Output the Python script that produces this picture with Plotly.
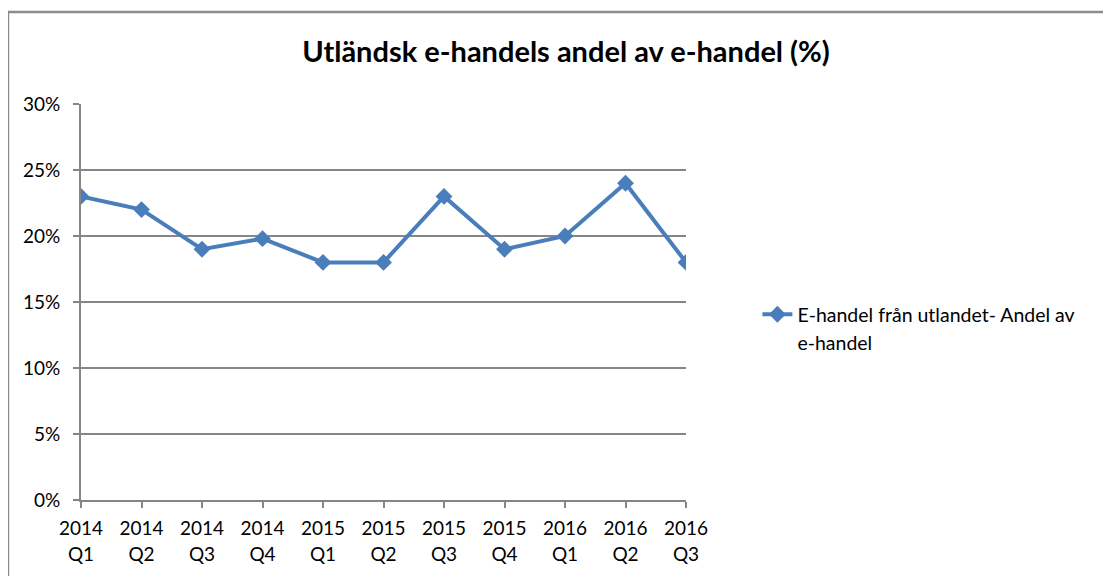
import plotly.graph_objects as go

categories = ["2014 Q1", "2014 Q2", "2014 Q3", "2014 Q4", "2015 Q1", "2015 Q2",
              "2015 Q3", "2015 Q4", "2016 Q1", "2016 Q2", "2016 Q3"]
values = [0.23, 0.22, 0.19, 0.198, 0.18, 0.18, 0.23, 0.19, 0.20, 0.24, 0.18]
series_name = "E-handel från utlandet- Andel av<br>e-handel"
y_ticks = [0, 0.05, 0.10, 0.15, 0.20, 0.25, 0.30]
y_tick_labels = ["0%", "5%", "10%", "15%", "20%", "25%", "30%"]
title_text = "Utländsk e-handels andel av e-handel (%)"

FONT = "Lato"
GRID = "#868686"
BLUE = "#4a7ebb"

# the page adds an 8px body margin, so compensate
OFF = 8
L, T, PW, PH = 81 - OFF, 104 - OFF, 605, 396

x_idx = list(range(len(categories)))
x_tick_labels = ['<span style="font-size:19px">' + c.replace(" ", "<br>") + "</span>" for c in categories]

fig = go.Figure()
fig.add_trace(go.Scatter(
    x=x_idx, y=values, mode="lines+markers",
    name='<span style="font-size:19.5px">' + series_name + "</span>",
    line=dict(color=BLUE, width=4),
    marker=dict(symbol="diamond", size=13, color=BLUE),
))

fig.update_layout(
    width=1111, height=576,
    margin=dict(l=L, r=1111 - L - PW, t=T, b=576 - T - PH),
    paper_bgcolor="white", plot_bgcolor="white",
    font=dict(family=FONT, color="black"),
    title=dict(text="<b>" + title_text + "</b>", x=(566 - OFF) / 1111, xanchor="center", xref="container",
               y=1 - (52 - OFF) / 576, yref="container", yanchor="middle",
               font=dict(family=FONT, size=29, color="black")),
    showlegend=True,
    legend=dict(x=1.118, y=0.52, xanchor="left", yanchor="top", valign="top",
                font=dict(family=FONT, size=21, color="black"),
                bgcolor="rgba(0,0,0,0)", borderwidth=0),
    xaxis=dict(range=[0, 10], tickmode="array", tickvals=x_idx, ticktext=x_tick_labels,
               showgrid=False, zeroline=False, showline=True, linecolor=GRID, linewidth=2,
               ticks="outside", ticklen=6, tickwidth=2, tickcolor=GRID, ticklabelstandoff=3,
               tickfont=dict(family=FONT, size=20, color="black"), fixedrange=True),
    yaxis=dict(range=[0, 0.30], tickmode="array", tickvals=y_ticks, ticktext=y_tick_labels,
               showgrid=True, gridcolor=GRID, gridwidth=2, zeroline=False,
               showline=True, linecolor=GRID, linewidth=2,
               ticks="outside", ticklen=6, tickwidth=2, tickcolor=GRID, ticklabelstandoff=9,
               tickfont=dict(family=FONT, size=19, color="black"), fixedrange=True),
)

# outer chart border (top and left visible)
fig.add_shape(type="rect", xref="paper", yref="paper",
              x0=(8 - 81) / PW, x1=2.0, y0=-1.0, y1=(500 - 12) / PH,
              line=dict(color="#8c8c8c", width=2.5), fillcolor="rgba(0,0,0,0)", layer="below")

fig.write_html("out.html")
